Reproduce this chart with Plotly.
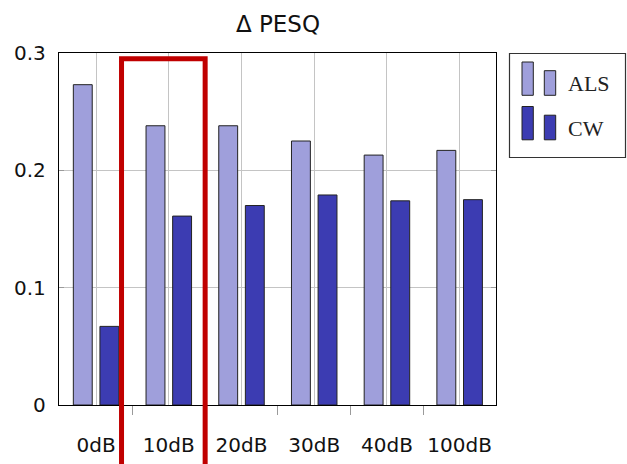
import plotly.graph_objects as go

categories = ["0dB", "10dB", "20dB", "30dB", "40dB", "100dB"]
als_values = [0.273, 0.238, 0.238, 0.225, 0.213, 0.217]
cw_values = [0.067, 0.161, 0.170, 0.179, 0.174, 0.175]
series_names = ["ALS", "CW"]
y_ticks = [0, 0.1, 0.2, 0.3]
y_tick_labels = ["0", "0.1", "0.2", "0.3"]
highlight_x = [0.35, 1.5]     # category-axis span of the red box
highlight_top = 0.295         # top of red box in data units

W, H = 627, 464
PL, PT, PW, PH = 59, 53, 437, 352   # plot area in window pixels
ML, MT = PL, PT
MR, MB = W - ML - PW, H - MT - PH
Y_MAX = 0.3
X_RANGE = [-0.51, 5.5]

ALS_COLOR = "#9f9fdb"
CW_COLOR = "#3c3cb2"

def px_x(px):
    return (px - PL) / PW

def px_y(py):
    return (PT + PH - py) / PH

xs = list(range(len(categories)))
boundaries = [i + 0.5 for i in xs[:-1]]

fig = go.Figure()
for name, vals, col in [(series_names[0], als_values, ALS_COLOR),
                        (series_names[1], cw_values, CW_COLOR)]:
    fig.add_trace(go.Bar(
        x=xs, y=vals, name=name,
        marker=dict(color=col, line=dict(color="#222222", width=1)),
        showlegend=False,
    ))

shapes = []
shapes.append(dict(type="rect", xref="x", yref="paper",
                   x0=highlight_x[0], x1=highlight_x[1],
                   y0=-0.5, y1=highlight_top / Y_MAX,
                   line=dict(color="#c00000", width=5),
                   fillcolor="rgba(0,0,0,0)", layer="above"))

# legend frame
shapes.append(dict(type="rect", xref="paper", yref="paper",
                   x0=px_x(509.5), x1=px_x(625.5), y0=px_y(157.5), y1=px_y(53.5),
                   line=dict(color="#333333", width=1.2),
                   fillcolor="white", layer="above"))

annotations = []
for i, (name, col) in enumerate([(series_names[0], ALS_COLOR), (series_names[1], CW_COLOR)]):
    dy = i * 44.5
    shapes.append(dict(type="rect", xref="paper", yref="paper",
                       x0=px_x(522), x1=px_x(533.3), y0=px_y(95.3 + dy), y1=px_y(62 + dy),
                       line=dict(color="#222222", width=1), fillcolor=col, layer="above"))
    shapes.append(dict(type="rect", xref="paper", yref="paper",
                       x0=px_x(544.3), x1=px_x(555.7), y0=px_y(95.3 + dy), y1=px_y(70.7 + dy),
                       line=dict(color="#222222", width=1), fillcolor=col, layer="above"))
    annotations.append(dict(text=name, xref="paper", yref="paper",
                            x=px_x(566), y=px_y(84 + dy), xanchor="left", yanchor="middle",
                            showarrow=False,
                            font=dict(family="Liberation Serif", size=22, color="#222222")))

fig.update_layout(
    width=W, height=H,
    margin=dict(l=ML, r=MR, t=MT, b=MB, autoexpand=False),
    paper_bgcolor="white", plot_bgcolor="white",
    barmode="group", bargap=0.268, bargroupgap=0.29,
    title=dict(text="Δ PESQ", x=278 / W, xanchor="center",
               y=1 - 23.5 / H, yanchor="middle",
               font=dict(family="DejaVu Sans", size=23, color="#111111")),
    font=dict(family="DejaVu Sans", size=20, color="#111111"),
    shapes=shapes, annotations=annotations,
    xaxis=dict(
        range=X_RANGE, tickvals=xs, ticktext=categories,
        showgrid=True, gridcolor="#c4c4c4", gridwidth=1,
        ticks="", ticklabelstandoff=22,
        showline=True, linecolor="black", linewidth=1.3, mirror=True,
        minor=dict(tickvals=boundaries, ticks="outside", ticklen=9,
                   tickcolor="#9a9a9a", tickwidth=1, showgrid=False),
        zeroline=False,
    ),
    xaxis2=dict(
        overlaying="x", side="top", range=X_RANGE,
        tickvals=boundaries, ticks="outside", ticklen=9,
        tickcolor="#9a9a9a", tickwidth=1, showticklabels=False,
        showgrid=False, zeroline=False, showline=False,
    ),
    yaxis=dict(
        range=[0, Y_MAX], tickvals=y_ticks, ticktext=y_tick_labels,
        showgrid=True, gridcolor="#c4c4c4", gridwidth=1,
        ticks="inside", ticklen=5, tickcolor="#9a9a9a",
        ticklabelstandoff=8,
        showline=True, linecolor="black", linewidth=1.3, mirror="ticks",
        zeroline=False,
    ),
)

fig.write_html("out.html",
               config={"displayModeBar": False},
               post_script="document.body.style.margin='0';"
                           "document.documentElement.style.overflow='hidden';"
                           "document.body.style.overflow='hidden';")
